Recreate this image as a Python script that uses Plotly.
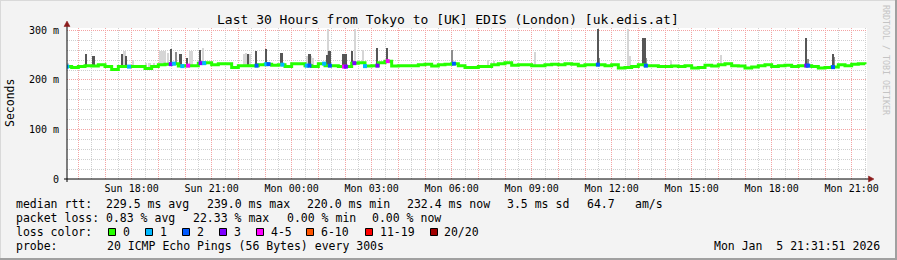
import pandas as pd
import plotly.graph_objects as go

# ---------------- data ----------------
title_text = "Last 30 Hours from Tokyo to [UK] EDIS (London) [uk.edis.at]"
x_start = "2026-01-04 15:34:30"
x_end = "2026-01-05 21:34:30"

median_times = pd.date_range("2026-01-04 15:30", "2026-01-05 21:30", freq="15min")
median_ms = [
    227, 225, 227, 229, 228, 231, 227, 221, 227, 227, 227, 227, 223, 227, 231, 232,
    233, 228, 229, 229, 234, 235, 231, 233, 233, 225, 229, 229, 229, 231, 232, 230,
    231, 227,
    233, 233, 229, 227, 233, 229, 229, 227, 227, 234, 235, 228, 229, 235, 238, 228,
    229, 229, 229, 231, 232, 228, 231, 232, 233, 229, 225, 225, 227, 227, 231, 233,
    235, 230, 231, 231, 229, 229, 231, 232, 231, 233, 232, 229, 231, 231, 231, 229,
    231, 224, 225, 227, 231, 229, 229, 227, 227, 228, 227, 229, 224, 225, 230, 228,
    231, 233, 229, 228, 224, 226, 229, 231, 227, 229, 230, 227, 229, 229, 227, 224,
    225, 226, 231, 229, 232, 233, 232,
]

dark_smoke_times = [
    "2026-01-04 16:17", "2026-01-04 16:34", "2026-01-04 17:39", "2026-01-04 17:48",
    "2026-01-04 19:29", "2026-01-04 19:50", "2026-01-04 20:05", "2026-01-04 20:34",
    "2026-01-04 22:22", "2026-01-04 22:39", "2026-01-04 23:03", "2026-01-04 23:37",
    "2026-01-05 00:40", "2026-01-05 01:19", "2026-01-05 01:25", "2026-01-05 01:56",
    "2026-01-05 01:59", "2026-01-05 02:02", "2026-01-05 02:16", "2026-01-05 03:12",
    "2026-01-05 03:34", "2026-01-05 11:29", "2026-01-05 13:11", "2026-01-05 13:14",
    "2026-01-05 19:18", "2026-01-05 20:18",
]
dark_smoke_top = [
    253, 249, 253, 249, 262, 253, 245, 260, 253, 258, 262, 255,
    252, 251, 259, 252, 252, 252, 259, 264, 264, 304, 284, 284,
    284, 253,
]

mid_smoke_times = [
    "2026-01-04 19:40", "2026-01-05 06:01", "2026-01-05 11:32", "2026-01-05 13:17",
    "2026-01-05 19:21", "2026-01-05 20:21",
]
mid_smoke_top = [257, 260, 245, 245, 242, 247]

light_smoke_times = [
    "2026-01-04 15:37", "2026-01-04 17:42", "2026-01-04 17:45", "2026-01-04 18:03",
    "2026-01-04 18:33", "2026-01-04 18:40", "2026-01-04 18:50", "2026-01-04 19:05",
    "2026-01-04 19:10", "2026-01-04 19:15", "2026-01-04 19:22", "2026-01-04 20:12",
    "2026-01-04 20:15", "2026-01-04 20:40", "2026-01-04 22:12", "2026-01-04 22:17",
    "2026-01-04 22:27", "2026-01-05 00:35", "2026-01-05 00:43", "2026-01-05 00:48",
    "2026-01-05 01:21", "2026-01-05 02:22", "2026-01-05 02:40", "2026-01-05 07:21",
    "2026-01-05 07:35", "2026-01-05 09:08", "2026-01-05 12:37", "2026-01-05 12:40",
    "2026-01-05 14:13", "2026-01-05 16:06",
]
light_smoke_top = [
    235, 259, 259, 240, 235, 235, 235, 259, 259, 259, 255, 259,
    259, 265, 253, 255, 253, 248, 248, 245, 304, 304, 260, 240,
    238, 256, 302, 249, 240, 251,
]

loss_times = [
    "2026-01-04 15:35", "2026-01-04 17:54", "2026-01-04 19:28", "2026-01-04 19:35",
    "2026-01-04 19:54", "2026-01-04 20:07", "2026-01-04 20:35", "2026-01-04 20:43",
    "2026-01-04 22:41", "2026-01-04 23:03", "2026-01-04 23:08", "2026-01-04 23:39",
    "2026-01-05 00:34", "2026-01-05 00:40", "2026-01-05 01:13", "2026-01-05 01:26",
    "2026-01-05 01:58", "2026-01-05 02:02", "2026-01-05 02:21", "2026-01-05 02:45",
    "2026-01-05 03:13", "2026-01-05 03:36", "2026-01-05 06:05", "2026-01-05 11:29",
    "2026-01-05 13:17", "2026-01-05 19:18", "2026-01-05 19:22", "2026-01-05 20:18",
]
loss_counts = [1, 1, 3, 1, 1, 4, 3, 1, 2, 1, 2, 1, 1, 2, 1, 2, 4, 3, 3, 1, 3, 4, 2, 2, 2, 3, 2, 2]

loss_labels = ["0", "1", "2", "3", "4-5", "6-10", "11-19", "20/20"]
loss_colors = ["#26ff00", "#00b8ff", "#0059ff", "#7e00ff", "#ff00ff", "#ff5500", "#ff0000", "#a10000"]

hour_ticks = pd.date_range("2026-01-04 16:00", "2026-01-05 21:00", freq="1h")
tick_text = [t.strftime("%a %H:%M") if t.hour % 3 == 0 else "" for t in hour_ticks]

stats_rows = [
    ["median rtt:\u00a0\u00a0229.5 ms avg", "239.0 ms max", "220.0 ms min", "232.4 ms now", "3.5 ms sd", "64.7", "am/s"],
    ["packet loss: 0.83 % avg", "22.33 % max", "0.00 % min", "0.00 % now"],
]
probe_text = "20 ICMP Echo Pings (56 Bytes) every 300s"
date_text = "Mon Jan\u00a0\u00a05 21:31:51 2026"

# ---------------- layout helpers ----------------
W, H = 897, 260
PL, PR, PT, PB = 67, 867, 28, 179
MONO = "DejaVu Sans Mono"


def px(x):
    return (x - PL) / (PR - PL)


def py(y):
    return (PB - y) / (PB - PT)


def loss_bucket(n):
    if n <= 3:
        return n
    if n <= 5:
        return 4
    if n <= 10:
        return 5
    if n <= 19:
        return 6
    return 7


med = pd.Series(median_ms, index=median_times)


def base_at(ts):
    return float(med.asof(pd.Timestamp(ts)))


fig = go.Figure()

FIVE_MIN = 300000


def smoke_trace(times, tops, color):
    bases = [base_at(t) - 2 for t in times]
    return go.Bar(
        x=pd.to_datetime(times), y=[tp - b for tp, b in zip(tops, bases)], base=bases,
        width=FIVE_MIN, marker=dict(color=color, line=dict(width=0)), hoverinfo="skip",
    )


fig.add_trace(smoke_trace(light_smoke_times, light_smoke_top, "#d6d6d6"))
fig.add_trace(smoke_trace(mid_smoke_times, mid_smoke_top, "#8e8e8e"))
fig.add_trace(smoke_trace(dark_smoke_times, dark_smoke_top, "#565656"))

fig.add_trace(go.Scatter(
    x=median_times, y=median_ms, mode="lines",
    line=dict(color=loss_colors[0], width=3, shape="hv"), hoverinfo="skip",
))

fig.add_trace(go.Scatter(
    x=pd.to_datetime(loss_times), y=[base_at(t) for t in loss_times], mode="markers",
    marker=dict(symbol="square", size=4, color=[loss_colors[loss_bucket(n)] for n in loss_counts],
                line=dict(width=0)),
    hoverinfo="skip",
))

red_grid = "#f4a3a3"
gray_grid = "#cfcfcf"

fig.update_layout(
    width=W, height=H, autosize=False,
    margin=dict(l=PL, r=W - PR, t=PT, b=H - PB, pad=0),
    paper_bgcolor="#f3f3f3", plot_bgcolor="#ffffff",
    showlegend=False, barmode="overlay", bargap=0,
    font=dict(family=MONO, size=10, color="#000000"),
    xaxis=dict(
        type="date", range=[x_start, x_end], tickmode="array",
        tickvals=hour_ticks, ticktext=tick_text, ticks="",
        showgrid=True, gridcolor=red_grid, griddash="1px,1px", gridwidth=1,
        minor=dict(dtick=1800000, tick0="2026-01-04 16:00", showgrid=True,
                   gridcolor=gray_grid, griddash="1px,1px", gridwidth=1, ticks=""),
        showline=False, zeroline=False, tickfont=dict(family=MONO, size=10),
        ticklabelstandoff=2, fixedrange=True,
    ),
    yaxis=dict(
        range=[0, 305], tickmode="array", tickvals=[0, 100, 200, 300],
        ticktext=["0", "100 m", "200 m", "300 m"], ticks="",
        showgrid=True, gridcolor=red_grid, griddash="1px,1px", gridwidth=1,
        minor=dict(dtick=20, tick0=0, showgrid=True, gridcolor=gray_grid,
                   griddash="1px,1px", gridwidth=1, ticks=""),
        showline=False, zeroline=False, tickfont=dict(family=MONO, size=10),
        ticklabelstandoff=7, fixedrange=True,
    ),
)

shapes = []
# axes with arrows
shapes.append(dict(type="line", xref="paper", yref="paper", x0=px(64), x1=px(869), y0=py(179), y1=py(179),
                   line=dict(color="#000000", width=1)))
shapes.append(dict(type="line", xref="paper", yref="paper", x0=px(67), x1=px(67), y0=py(182), y1=py(26),
                   line=dict(color="#000000", width=1)))
arrow_col = "#8b1a1a"
shapes.append(dict(type="path", xref="paper", yref="paper",
                   path=f"M {px(64)},{py(26.5)} L {px(70)},{py(26.5)} L {px(67)},{py(21)} Z",
                   fillcolor=arrow_col, line=dict(color=arrow_col, width=0.5)))
shapes.append(dict(type="path", xref="paper", yref="paper",
                   path=f"M {px(868.5)},{py(176)} L {px(868.5)},{py(182)} L {px(874)},{py(179)} Z",
                   fillcolor=arrow_col, line=dict(color=arrow_col, width=0.5)))
# outer frame (3D-look border)
shapes.append(dict(type="line", xref="paper", yref="paper", x0=px(0), x1=px(897), y0=py(0.5), y1=py(0.5),
                   line=dict(color="#d9d9d9", width=1)))
shapes.append(dict(type="line", xref="paper", yref="paper", x0=px(0.5), x1=px(0.5), y0=py(0), y1=py(260),
                   line=dict(color="#d9d9d9", width=1)))
shapes.append(dict(type="line", xref="paper", yref="paper", x0=px(0), x1=px(897), y0=py(259), y1=py(259),
                   line=dict(color="#a0a0a0", width=2)))
shapes.append(dict(type="line", xref="paper", yref="paper", x0=px(896), x1=px(896), y0=py(0), y1=py(260),
                   line=dict(color="#a0a0a0", width=2)))

# loss colour legend boxes
box_x = [108.5, 145.5, 182.5, 219.5, 256.5, 306.5, 365.5, 430.5]
label_x = [122.5, 159.5, 196.5, 233.5, 270.5, 320.5, 379.5, 443.5]
for bx, col in zip(box_x, loss_colors):
    shapes.append(dict(type="rect", xref="paper", yref="paper", x0=px(bx), x1=px(bx + 7),
                       y0=py(235.5), y1=py(228.5), fillcolor=col, line=dict(color="#000000", width=1)))

annotations = []


def text(x, y, s, size=11.5, anchor="left", angle=0, color="#000000", yanchor="middle"):
    annotations.append(dict(x=px(x), y=py(y), xref="paper", yref="paper", text=s, showarrow=False,
                            xanchor=anchor, yanchor=yanchor, textangle=angle, borderpad=0, borderwidth=0,
                            font=dict(family=MONO, size=size, color=color)))


text(447.5, 19.3, title_text, size=13, anchor="center")
text(10, 103, "Seconds", size=11.5, anchor="center", angle=-90)
text(886, 60, "RRDTOOL / TOBI OETIKER", size=8.3, anchor="center", angle=90, color="#c4c4c4")

row_y = [204.3, 218.3, 232.3, 246.0]
row1_x = [16, 207.3, 307.3, 407.3, 506.7, 586.7, 635]
for x, s in zip(row1_x, stats_rows[0]):
    text(x, row_y[0], s)
row2_x = [16, 193, 286.7, 372.3]
for x, s in zip(row2_x, stats_rows[1]):
    text(x, row_y[1], s)
text(16, row_y[2], "loss color:")
for lx, lab in zip(label_x, loss_labels):
    text(lx, row_y[2], lab)
text(16, row_y[3], "probe:")
text(107.3, row_y[3], probe_text)
text(880, row_y[3], date_text, anchor="right")

fig.update_layout(shapes=shapes, annotations=annotations)

fig.write_html("out.html", config=dict(displayModeBar=False, staticPlot=True))
